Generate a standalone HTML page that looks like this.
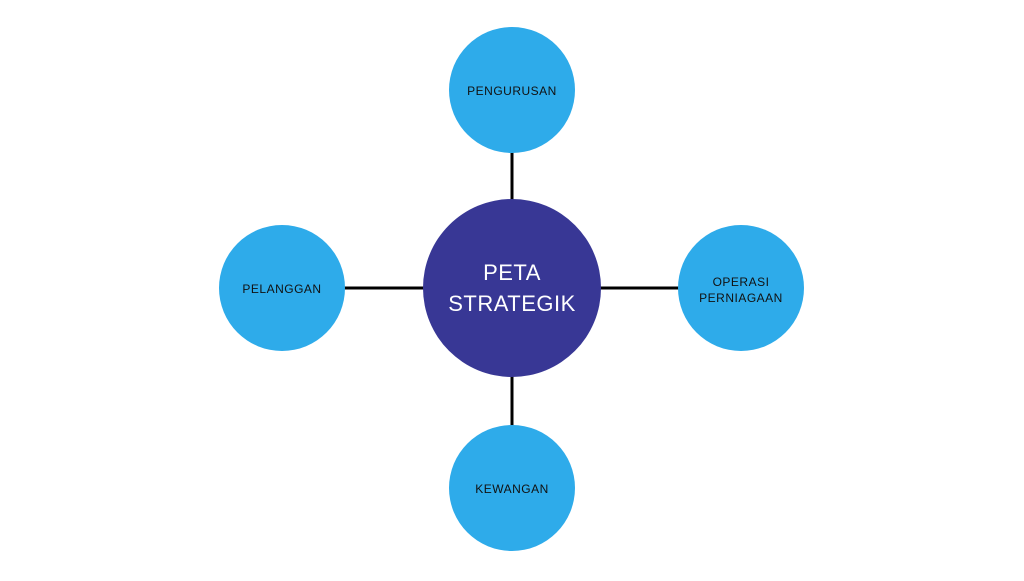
<!DOCTYPE html>
<html><head><style>html,body{margin:0;padding:0;background:#fff}</style></head>
<body>
<svg width="1024" height="576" viewBox="0 0 1024 576" xmlns="http://www.w3.org/2000/svg">
<rect width="1024" height="576" fill="#fff"/>
<g stroke="#000" stroke-width="3">
<line x1="512" y1="150" x2="512" y2="202"/>
<line x1="512" y1="374" x2="512" y2="428"/>
<line x1="343" y1="288" x2="426" y2="288"/>
<line x1="598" y1="288" x2="680" y2="288"/>
</g>
<g fill="#2EABEA">
<circle cx="512" cy="90" r="63"/>
<circle cx="512" cy="488" r="63"/>
<circle cx="282" cy="288" r="63"/>
<circle cx="741" cy="288" r="63"/>
</g>
<circle cx="512" cy="288" r="89" fill="#383795"/>
<g font-family="Liberation Sans, sans-serif" font-size="12" fill="#111" text-anchor="middle" letter-spacing="0.5">
<text x="512" y="95">PENGURUSAN</text>
<text x="512" y="493">KEWANGAN</text>
<text x="282" y="293">PELANGGAN</text>
<text x="741" y="286">OPERASI</text>
<text x="741" y="302">PERNIAGAAN</text>
</g>
<g font-family="Liberation Sans, sans-serif" font-size="22" fill="#fff" text-anchor="middle" letter-spacing="0.5">
<text x="512" y="280">PETA</text>
<text x="512" y="311">STRATEGIK</text>
</g>
</svg>
</body></html>
